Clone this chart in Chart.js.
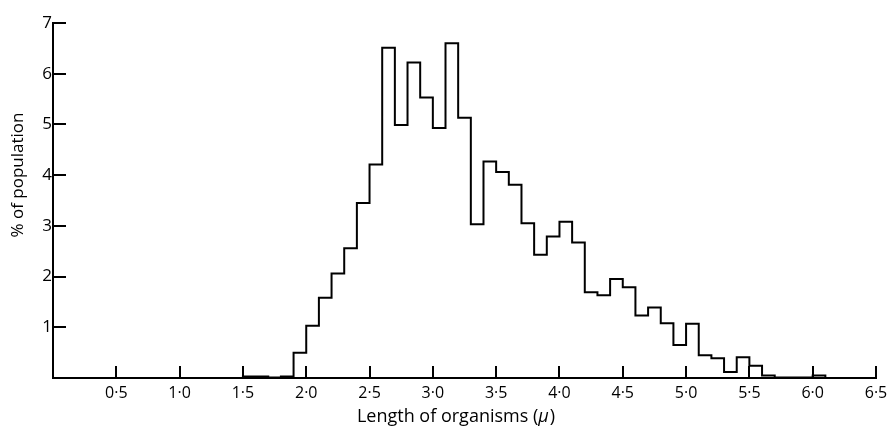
<!DOCTYPE html>
<html>
<head>
<meta charset="utf-8">
<script src="https://cdn.jsdelivr.net/npm/chart.js@4/dist/chart.umd.min.js"></script>
<style>
  html, body { margin: 0; padding: 0; background: #fff; }
  #wrap { width: 893px; height: 431px; }
</style>
</head>
<body>
<div id="wrap"><canvas id="c" width="893" height="431"></canvas></div>
<script>
// Bin left edges (length, μ) and % of population in each 0.1 μ bin
const binLeft = [1.4, 1.5, 1.6, 1.7, 1.8, 1.9, 2.0, 2.1, 2.2, 2.3, 2.4, 2.5, 2.6, 2.7, 2.8, 2.9,
                 3.0, 3.1, 3.2, 3.3, 3.4, 3.5, 3.6, 3.7, 3.8, 3.9, 4.0, 4.1, 4.2, 4.3, 4.4, 4.5,
                 4.6, 4.7, 4.8, 4.9, 5.0, 5.1, 5.2, 5.3, 5.4, 5.5, 5.6, 5.7, 5.8, 5.9, 6.0, 6.1, 6.2];
const percent = [0, 0.03, 0.03, 0.01, 0.03, 0.5, 1.03, 1.58, 2.06, 2.56, 3.45, 4.21, 6.51, 4.99, 6.22, 5.53,
                 4.93, 6.6, 5.13, 3.03, 4.27, 4.06, 3.81, 3.05, 2.43, 2.79, 3.08, 2.67, 1.69, 1.63, 1.95, 1.79,
                 1.23, 1.39, 1.08, 0.65, 1.07, 0.45, 0.39, 0.12, 0.41, 0.24, 0.05, 0.01, 0.01, 0.01, 0.05, 0, 0];
const xTicks = [0.5, 1.0, 1.5, 2.0, 2.5, 3.0, 3.5, 4.0, 4.5, 5.0, 5.5, 6.0, 6.5];
const yTicks = [1, 2, 3, 4, 5, 6, 7];
const xTitle = ['Length of organisms (', 'μ', ')'];
const yTitle = '% of population';

const FONT = '"Open Sans", Lato, sans-serif';
const points = binLeft.map((x, i) => ({ x: x, y: percent[i] }));

const titlePlugin = {
  id: 'axisTitles',
  afterDraw(chart) {
    const ctx = chart.ctx;
    ctx.save();
    ctx.fillStyle = '#000';
    ctx.textBaseline = 'alphabetic';
    // x title with italic mu
    const fN = '18px ' + FONT, fI = 'italic 18px ' + FONT;
    ctx.font = fN; const w1 = ctx.measureText(xTitle[0]).width;
    ctx.font = fI; const w2 = ctx.measureText(xTitle[1]).width;
    ctx.font = fN; const w3 = ctx.measureText(xTitle[2]).width;
    let x = 456 - (w1 + w2 + w3 + 1) / 2;
    const y = 422;
    ctx.font = fN; ctx.textAlign = 'left'; ctx.fillText(xTitle[0], x, y); x += w1;
    ctx.font = fI; ctx.fillText(xTitle[1], x, y); x += w2 + 1;
    ctx.font = fN; ctx.fillText(xTitle[2], x, y);
    // y title
    ctx.translate(23, 175);
    ctx.rotate(-Math.PI / 2);
    ctx.textAlign = 'center';
    ctx.font = '17px ' + FONT;
    ctx.fillText(yTitle, 0, 0);
    ctx.restore();
  }
};

new Chart(document.getElementById('c'), {
  type: 'line',
  data: {
    datasets: [{
      data: points,
      stepped: 'before',
      borderColor: '#000',
      borderWidth: 2,
      pointRadius: 0,
      fill: false,
      tension: 0
    }]
  },
  options: {
    responsive: false,
    animation: false,
    events: [],
    layout: { padding: { top: 23, right: 17, left: 0, bottom: 0 } },
    plugins: { legend: { display: false }, tooltip: { enabled: false }, title: { display: false } },
    scales: {
      x: {
        type: 'linear',
        min: 0, max: 6.5,
        afterBuildTicks(scale) { scale.ticks = [0].concat(xTicks).map(v => ({ value: v })); },
        afterFit(scale) { scale.height = 53; scale.paddingLeft = 0; scale.paddingRight = 0; },
        grid: { drawOnChartArea: false, drawTicks: true, tickLength: -12, color: '#000', lineWidth: 2 },
        border: { display: true, color: '#000', width: 2 },
        ticks: {
          padding: 18,
          color: '#000',
          font: { family: FONT, size: 16 },
          maxRotation: 0,
          autoSkip: false,
          callback: (v) => v === 0 ? '' : v.toFixed(1).replace('.', '·')
        }
      },
      y: {
        type: 'linear',
        min: 0, max: 7,
        afterBuildTicks(scale) { scale.ticks = [0].concat(yTicks).map(v => ({ value: v })); },
        afterFit(scale) { scale.width = 53; scale.paddingTop = 0; scale.paddingBottom = 0; },
        grid: { drawOnChartArea: false, drawTicks: true, tickLength: -13, color: '#000', lineWidth: 2 },
        border: { display: true, color: '#000', width: 2 },
        ticks: {
          padding: 14,
          color: '#000',
          font: { family: FONT, size: 17, weight: '500' },
          autoSkip: false,
          callback: (v) => v === 0 ? '' : String(v)
        }
      }
    }
  },
  plugins: [titlePlugin]
});
</script>
</body>
</html>
